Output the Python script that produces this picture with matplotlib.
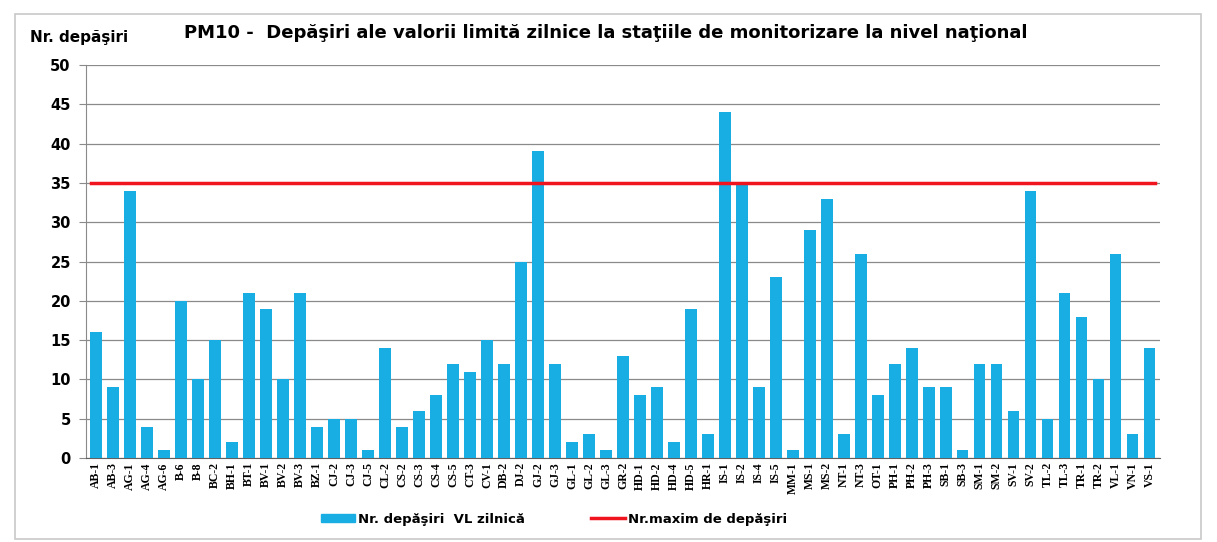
import matplotlib
matplotlib.use("Agg")
import matplotlib.pyplot as plt
from matplotlib.patches import Rectangle
from matplotlib.lines import Line2D
from matplotlib.patches import Patch

stations = ["AB-1", "AB-3", "AG-1", "AG-4", "AG-6", "B-6", "B-8", "BC-2", "BH-1", "BT-1",
            "BV-1", "BV-2", "BV-3", "BZ-1", "CJ-2", "CJ-3", "CJ-5", "CL-2", "CS-2", "CS-3",
            "CS-4", "CS-5", "CT-3", "CV-1", "DB-2", "DJ-2", "GJ-2", "GJ-3", "GL-1", "GL-2",
            "GL-3", "GR-2", "HD-1", "HD-2", "HD-4", "HD-5", "HR-1", "IS-1", "IS-2", "IS-4",
            "IS-5", "MM-1", "MS-1", "MS-2", "NT-1", "NT-3", "OT-1", "PH-1", "PH-2", "PH-3",
            "SB-1", "SB-3", "SM-1", "SM-2", "SV-1", "SV-2", "TL-2", "TL-3", "TR-1", "TR-2",
            "VL-1", "VN-1", "VS-1"]
exceedances = [16, 9, 34, 4, 1, 20, 10, 15, 2, 21,
               19, 10, 21, 4, 5, 5, 1, 14, 4, 6,
               8, 12, 11, 15, 12, 25, 39, 12, 2, 3,
               1, 13, 8, 9, 2, 19, 3, 44, 35, 9,
               23, 1, 29, 33, 3, 26, 8, 12, 14, 9,
               9, 1, 12, 12, 6, 34, 5, 21, 18, 10,
               26, 3, 14]
max_allowed = 35
y_ticks = list(range(0, 55, 5))

SANS = "DejaVu Sans"

fig = plt.figure(figsize=(12.17, 5.42), dpi=100)
ax = fig.add_axes([0.0707, 0.155, 0.8823, 0.725])

x = list(range(len(stations)))
ax.bar(x, exceedances, width=0.68, color="#19AEE3", zorder=3)
ax.plot([x[0] - 0.3, x[-1] + 0.3], [max_allowed, max_allowed], color="#F0141E", lw=2.5, zorder=4)

ax.set_xlim(-0.6, len(stations) - 0.4)
ax.set_ylim(0, 50)
ax.set_yticks(y_ticks)
ax.set_yticklabels([str(t) for t in y_ticks], fontsize=10.5, fontweight="bold", family=SANS)
ax.set_xticks(x)
ax.set_xticklabels(stations, rotation=90, fontsize=8.5, family="Liberation Serif", fontweight="bold")
ax.yaxis.grid(True, color="#8a8a8a", lw=0.9, zorder=0)
ax.tick_params(axis="y", length=5, color="#8a8a8a", pad=6)
ax.tick_params(axis="x", length=0, pad=3)
for s in ["top", "right"]:
    ax.spines[s].set_visible(False)
ax.spines["left"].set_color("#8a8a8a")
ax.spines["bottom"].set_color("#606060")

fig.text(0.025, 0.930, "Nr. depăşiri", fontsize=11, fontweight="bold", family=SANS, va="center")
fig.text(0.498, 0.939, "PM10 -  Depăşiri ale valorii limită zilnice la staţiile de monitorizare la nivel naţional",
         fontsize=13, fontweight="bold", family=SANS, ha="center", va="center")

handles = [Patch(color="#19AEE3"), Line2D([0], [0], color="#F0141E", lw=2.5)]
fig.legend(handles, ["Nr. depăşiri  VL zilnică", "Nr.maxim de depăşiri"], loc="center",
           bbox_to_anchor=(0.455, 0.042), ncol=2, frameon=False, columnspacing=5,
           handlelength=2.6, handletextpad=0.2, handleheight=0.55,
           prop={"family": SANS, "weight": "bold", "size": 9.5})

fig.add_artist(Rectangle((0.012, 0.005), 0.975, 0.97, transform=fig.transFigure,
                         fill=False, edgecolor="#c8c8c8", lw=1.2))

fig.savefig("out.png", dpi=100)
